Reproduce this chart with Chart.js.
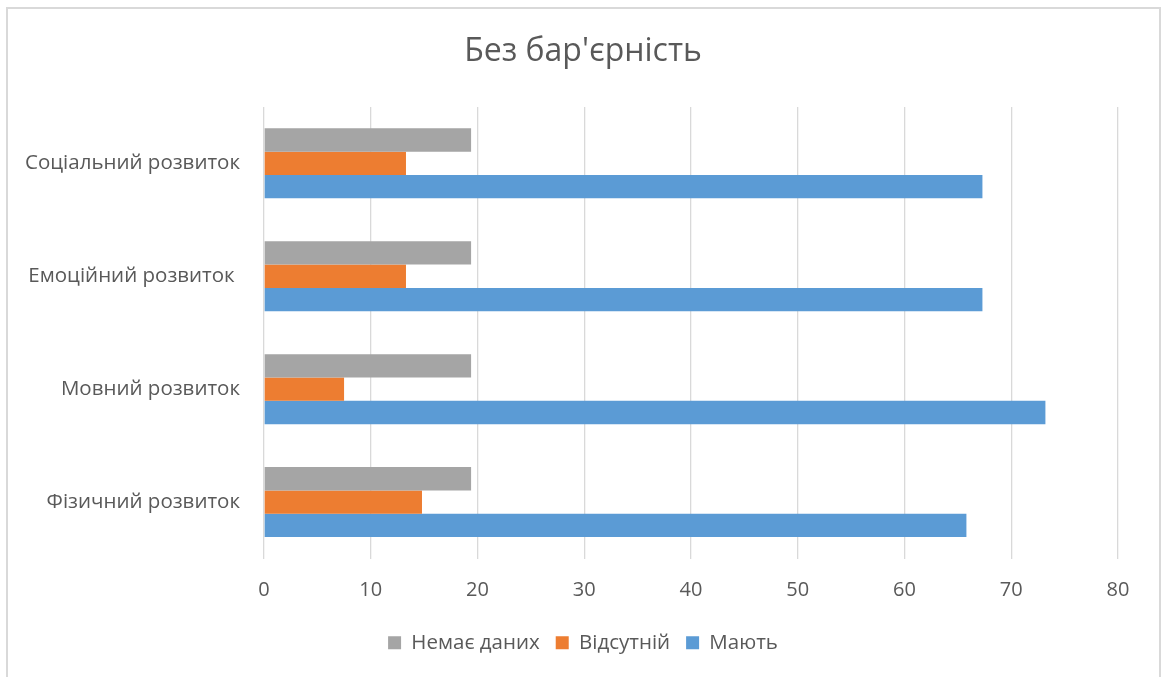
<!DOCTYPE html>
<html>
<head>
<meta charset="utf-8">
<title>Без бар'єрність</title>
<script src="https://cdn.jsdelivr.net/npm/chart.js@4"></script>
<style>
    html, body {
        margin: 0;
        padding: 0;
        background: #ffffff;
        overflow: hidden;
    }
    #frame {
        position: absolute;
        left: 6px;
        top: 7px;
        width: 1151px;
        height: 720px;
        border: 2px solid #d9d9d9;
    }
    #wrap {
        position: absolute;
        left: 0;
        top: 0;
        width: 1166px;
        height: 677px;
    }
</style>
</head>
<body>
<div id="frame"></div>
<div id="wrap"><canvas id="barrierChart"></canvas></div>
<script>
const categories = ["Соціальний розвиток", "Емоційний розвиток ", "Мовний розвиток", "Фізичний розвиток"];
const noData = [19.4, 19.4, 19.4, 19.4];
const absent = [13.3, 13.3, 7.5, 14.8];
const have = [67.3, 67.3, 73.2, 65.8];
const xTicks = [0, 10, 20, 30, 40, 50, 60, 70, 80];

const textColor = "#595959";
const fontFamily = "'Open Sans', 'Noto Sans', sans-serif";

function drawChart(chartName) {
    var ctx = document.getElementById(chartName).getContext("2d");

    let datasets = [
        { label: "Немає даних", data: noData, backgroundColor: "#a5a5a5" },
        { label: "Відсутній", data: absent, backgroundColor: "#ed7d31" },
        { label: "Мають", data: have, backgroundColor: "#5b9bd5" },
    ];

    window[chartName] = new Chart(ctx, {
        type: "bar",
        data: {
            labels: categories,
            datasets: datasets,
        },
        options: {
            indexAxis: "y",
            responsive: true,
            maintainAspectRatio: false,
            animation: false,
            layout: {
                padding: { left: 0, right: 0, top: 0, bottom: 14 },
            },
            datasets: {
                bar: {
                    categoryPercentage: 0.62,
                    barPercentage: 1,
                    borderWidth: 0,
                },
            },
            plugins: {
                title: {
                    display: true,
                    text: "Без бар'єрність",
                    color: textColor,
                    font: { family: fontFamily, size: 32, weight: "normal" },
                    padding: { top: 33, bottom: 35.5 },
                },
                legend: {
                    position: "bottom",
                    labels: {
                        color: textColor,
                        font: { family: fontFamily, size: 20.5 },
                        boxWidth: 13,
                        boxHeight: 13,
                        padding: 16,
                    },
                },
                tooltip: { enabled: false },
            },
            scales: {
                x: {
                    min: 0,
                    max: 80,
                    afterBuildTicks: (axis) => {
                        axis.ticks = xTicks.map((v) => ({ value: v }));
                    },
                    afterFit: (axis) => {
                        axis.height = 58;
                    },
                    grid: {
                        color: "#d9d9d9",
                        lineWidth: 1.3,
                        drawTicks: false,
                    },
                    border: { display: false },
                    ticks: {
                        color: textColor,
                        font: { family: fontFamily, size: 20 },
                        padding: 20,
                    },
                },
                y: {
                    afterFit: (axis) => {
                        axis.width = 264;
                    },
                    grid: { display: false, drawTicks: false },
                    border: { display: false },
                    ticks: {
                        color: textColor,
                        font: { family: fontFamily, size: 20.5 },
                        padding: 24,
                    },
                },
                // empty strip on the right so title and legend stay centred on the page
                yRight: {
                    type: "linear",
                    axis: "y",
                    position: "right",
                    min: 0,
                    max: 1,
                    afterFit: (axis) => {
                        axis.width = 48;
                    },
                    grid: { display: false, drawTicks: false },
                    border: { display: false },
                    ticks: { display: false },
                },
            },
        },
    });
}

drawChart("barrierChart");
</script>
</body>
</html>
